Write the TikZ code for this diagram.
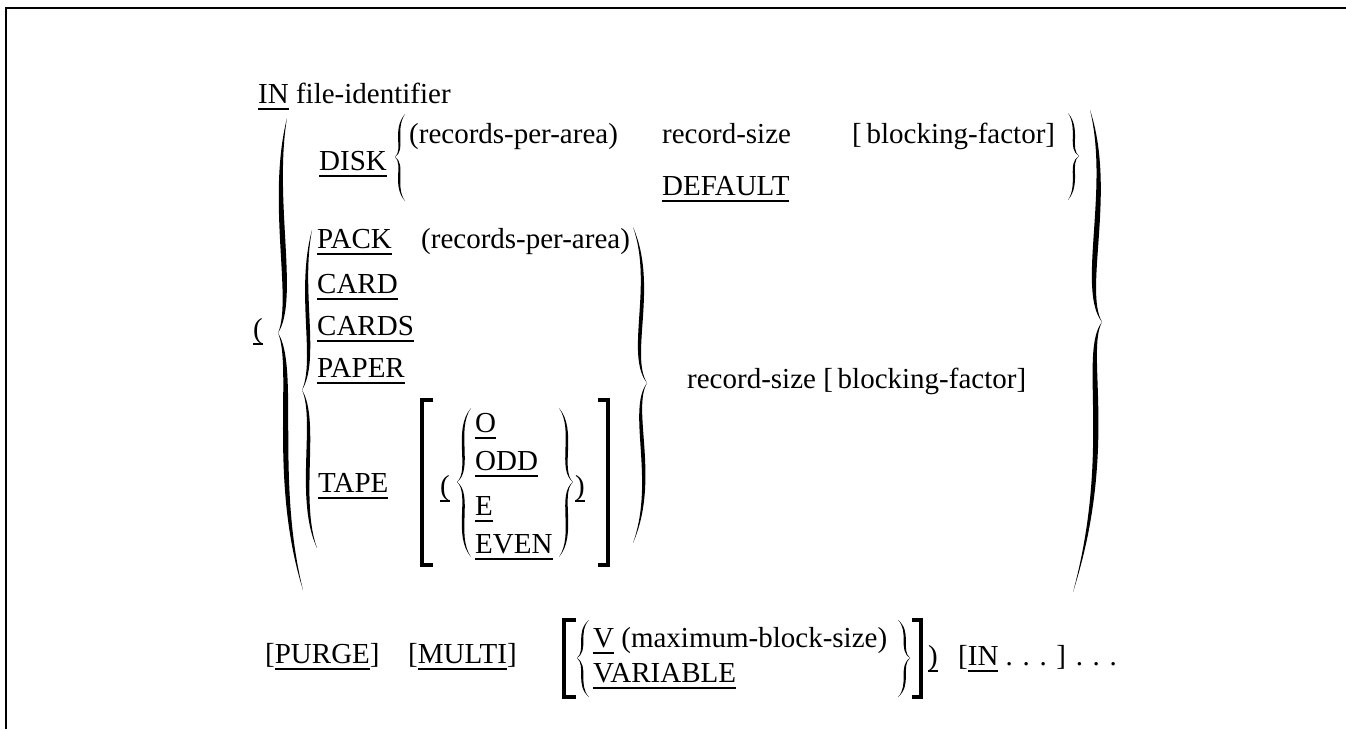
\documentclass[tikz,border=0pt]{standalone}
\usepackage{fontspec}
\setmainfont{Liberation Serif}
\usetikzlibrary{calc}
\newcommand\fs{\fontsize{29}{34}\selectfont}
\newcommand\uln[1]{\setbox0=\hbox{#1}\rlap{\rule[-6.5pt]{\wd0}{1.7pt}}\box0\relax}
% half of a brace / paren as a filled lens: start, control 1, control 2, end, thickness
\newcommand\bhalf[5]{\fill (#1) .. controls ($(#2)+(-#5/2,0)$) and ($(#3)+(-#5/2,0)$) .. (#4) .. controls ($(#3)+(#5/2,0)$) and ($(#2)+(#5/2,0)$) .. (#1) -- cycle;}
\tikzset{
  lbl/.style={anchor=base west, inner sep=0pt, font=\fs},
  brk/.style={line width=3.6pt, line join=miter},
  frame/.style={line width=2.4pt}
}
\begin{document}
\begin{tikzpicture}[x=1pt,y=-1pt]
\useasboundingbox (0,0) rectangle (1346,729);
\draw[frame] (6,729) -- (6,8) -- (1346,8);

% first line
\node[lbl] (in) at (258,103) {\uln{IN} file-identifier};

% DISK row
\node[lbl] (disk) at (319,170) {\uln{DISK}};
\node[lbl] (rpa1) at (409,143) {(records-per-area)};
\node[lbl] (rs1) at (662,143) {record-size};
\node[lbl] (bf1) at (852,143) {[\,blocking-factor]};
\node[lbl] (dflt) at (662,195) {\uln{DEFAULT}};
\bhalf{405,114}{393,130}{405,150}{395,157}{3}
\bhalf{395,157}{405,164}{393,186}{405,201}{3}
\bhalf{1068,113}{1080,129}{1068,149}{1079,156}{3}
\bhalf{1079,156}{1068,163}{1080,184}{1068,200}{3}

% PACK group
\node[lbl] (pack) at (317,248) {\uln{PACK}};
\node[lbl] (rpa2) at (421,248) {(records-per-area)};
\node[lbl] (card) at (317,293) {\uln{CARD}};
\node[lbl] (cards) at (317,335) {\uln{CARDS}};
\node[lbl] (paper) at (317,377) {\uln{PAPER}};
\node[lbl] (tape) at (318,492) {\uln{TAPE}};
\node[lbl] (lp2) at (440,495) {\uln{(}};
\node[lbl] (o) at (475,432) {\uln{O}};
\node[lbl] (odd) at (475,470) {\uln{ODD}};
\node[lbl] (e) at (475,515) {\uln{E}};
\node[lbl] (even) at (475,553) {\uln{EVEN}};
\node[lbl] (rp2) at (575,495) {\uln{)}};
\node[lbl] (rsbf) at (687,388) {record-size [\,blocking-factor]};

% TAPE brackets and braces
\draw[brk] (433,400) -- (422,400) -- (422,565) -- (433,565);
\draw[brk] (598,400) -- (608,400) -- (608,565) -- (598,565);
\bhalf{471,408}{454,430}{472,470}{457,482}{3.5}
\bhalf{457,482}{472,494}{454,535}{471,557}{3.5}
\bhalf{559,408}{576,430}{558,470}{573,482}{3.5}
\bhalf{573,482}{558,494}{576,535}{559,557}{3.5}

% inner braces of PACK group
\bhalf{312,230}{298,290}{318,360}{302,390}{5}
\bhalf{302,390}{318,420}{297,500}{317,548}{5}
\bhalf{633,227}{656,285}{627,355}{647,383}{5}
\bhalf{647,383}{629,410}{658,480}{633,543}{5}

% outer structure
\node[lbl] (lp1) at (253,338) {\uln{(}};
\bhalf{287,118}{270,200}{296,300}{278,333}{7}
\bhalf{278,333}{296,366}{272,480}{303,590}{7}
\bhalf{1090,110}{1113,190}{1080,290}{1102,322}{7}
\bhalf{1102,322}{1082,352}{1115,450}{1073,592}{7}

% bottom row
\node[lbl] (purge) at (265,663) {[\uln{PURGE}]};
\node[lbl] (multi) at (408,663) {[\uln{MULTI}]};
\node[lbl] (v) at (593,647) {\uln{V} (maximum-block-size)};
\node[lbl] (var) at (593,682) {\uln{VARIABLE}};
\node[lbl] (rp3) at (928,665) {\uln{)}};
\node[lbl] (inmore) at (958,665) {[\uln{IN} . . . ] . . .};
\draw[brk] (576,620) -- (564,620) -- (564,697) -- (576,697);
\draw[brk] (912,620) -- (921,620) -- (921,697) -- (912,697);
\bhalf{589,620}{576,632}{588,650}{577,658}{3}
\bhalf{577,658}{588,666}{576,685}{589,697}{3}
\bhalf{898,620}{911,632}{899,650}{910,658}{3}
\bhalf{910,658}{899,666}{911,685}{898,697}{3}
\end{tikzpicture}
\end{document}
